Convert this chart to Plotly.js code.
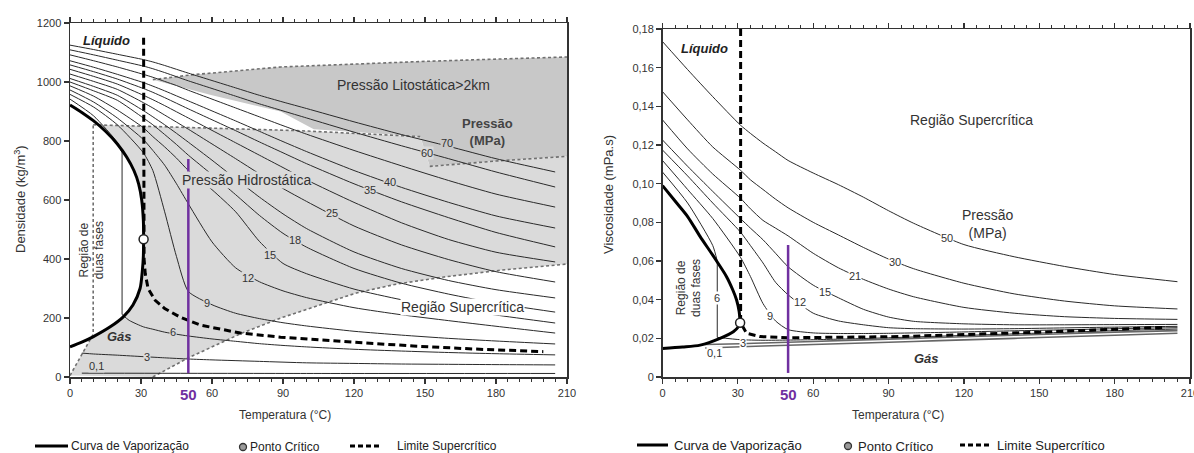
<!DOCTYPE html>
<html><head><meta charset="utf-8">
<script src="https://cdn.plot.ly/plotly-3.0.1.min.js"></script>
<style>html,body{margin:0;padding:0;background:#fff}#chart{width:1194px;height:453px}</style>
</head><body><div id="chart"></div>
<script>
// ================= LEFT PANEL: density (kg/m3) vs temperature (°C) =================
const isoT = [0,10,20,31,35,40,45,50,60,70,80,90,100,120,140,160,180,205];
const rho70 = [1125,1110,1094,1076,1068,1056,1043,1030,1005,980,955,932,910,865,822,782,740,695];
const rho60 = [1109,1092,1074,1054,1045,1032,1018,1004,978,952,926,902,878,830,784,740,695,644];
const rho50 = [1092,1072,1051,1026,1016,1002,988,972,942,912,882,852,823,768,716,666,620,576];
const rho40 = [1072,1050,1026,998,986,970,953,936,902,868,833,798,764,700,643,592,546,505];
const rho35 = [1058,1035,1010,978,965,947,928,909,872,835,797,760,723,655,594,540,490,441];
const rho30 = [1043,1019,993,955,940,920,899,878,836,794,752,710,668,592,523,466,423,390];
const rho25 = [1027,1002,975,930,912,888,864,840,790,740,689,639,595,512,448,398,357,322];
const rho21 = [1012,985,955,903,882,855,826,796,735,672,610,553,503,424,368,327,296,268];
const rho18 = [1000,970,938,878,855,822,788,752,686,618,548,487,440,368,318,281,250,220];
const rho15 = [987,952,905,845,815,780,742,700,635,560,460,385,350,298,262,234,210,183];
const rho12 = [973,932,878,805,768,718,655,587,458,370,323,292,269,235,211,191,172,149];
const rho9  = [958,915,855,760,700,560,408,290,245,216,198,184,173,155,142,131,122,112];
const rho6LiqT = [0,10,20,22];
const rho6Liq  = [942,885,795,760];
const rho6GasT = [22,25,31,35,40,45,50,60,70,80,90,100,120,140,160,180,205];
const rho6Gas  = [212,192,170,162,152,145,139,129,121,113,107,102,94,88,83,79,75];
const rho3T = [5,10,20,31,40,50,60,80,100,120,140,160,180,205];
const rho3  = [81,78,74,69,65,61,58,53,48,46,44,43,42,41];
const rho01T = [5,100,205];
const rho01  = [13,12,12];

const vapLiqT = [0,5,10,15,20,24,27,29,30.3,31,31.1];
const vapLiqRho = [922,897,868,833,790,745,700,655,600,530,467];
const vapGasT = [0,5,9.7,17,22.4,26.6,29.6,30.6,31,31.1];
const vapGasRho = [102,118,136,170,203,244,300,363,410,467];
const scT = [31.1,31.1,31.3,31.8,33,36,40,46.5,55,72,89,120,145,170,200];
const scRho = [1150,467,400,350,300,260,232,203,176,149,135,118,105,95,86];
const critT = 31.1, critRho = 467;

const lithoT   = [35,51,89,150,210,210,180,152,148,103,89,60,35];
const lithoRho = [1008,1024,1051,1070,1085,748,732,714,815,840,900,955,1008];
const litTopT = [35,51,89,150,210];
const litTopRho = [1008,1024,1051,1070,1085];
const litBotT = [152,180,210];
const litBotRho = [714,732,748];
const hydroT   = [0,9.8,9.8,97,148,152,180,210,210,182,158,138,121,89,73,50,35];
const hydroRho = [5,145,855,835,815,714,732,748,383,362,339,315,285,200,150,65,0];
const hydLeftT = [0,9.8,9.8];
const hydLeftRho = [5,145,855];
const hydTopT = [9.8,97,148];
const hydTopRho = [855,835,815];
const hydBotT = [35,50,73,89,121,138,158,182,210];
const hydBotRho = [0,65,150,200,285,315,339,362,383];

const leftLabels = ['0,1','3','6','9','12','15','18','25','35','40','60','70'];
const leftLabelT = [11.4,32.5,43.5,57.9,75.2,84.5,95,110.7,126.7,135.2,150.8,159.3];
const leftLabelRho = [37,68,153,251,336,414,464,556,634,661,759,793];

// ================= RIGHT PANEL: viscosity (mPa.s) vs temperature (°C) =================
const visT = [0,10,20,31,35,40,45,50,60,70,80,90,100,120,140,160,180,205];
const vis50 = [0.1735,0.159,0.145,0.1303,0.126,0.121,0.1165,0.112,0.1055,0.0995,0.093,0.086,0.0795,0.0685,0.0622,0.0572,0.0530,0.0493];
const vis30 = [0.1476,0.133,0.119,0.107,0.102,0.097,0.092,0.0875,0.080,0.0735,0.067,0.061,0.056,0.0485,0.043,0.0393,0.0368,0.0352];
const vis21 = [0.133,0.118,0.105,0.0925,0.087,0.081,0.077,0.073,0.064,0.0565,0.0505,0.0455,0.0415,0.036,0.033,0.0312,0.0303,0.0298];
const vis15 = [0.1226,0.109,0.096,0.082,0.077,0.071,0.064,0.057,0.0475,0.041,0.035,0.031,0.0288,0.0275,0.027,0.027,0.0271,0.0272];
const vis12 = [0.1174,0.104,0.090,0.075,0.068,0.059,0.049,0.0425,0.033,0.029,0.027,0.0255,0.025,0.0248,0.025,0.0254,0.0258,0.0262];
const vis9  = [0.112,0.097,0.082,0.062,0.052,0.038,0.029,0.0245,0.0228,0.0225,0.0225,0.0226,0.0228,0.0233,0.0239,0.0244,0.025,0.0255];
const vis6LiqT = [0,10,20,21.8];
const vis6Liq  = [0.106,0.090,0.068,0.060];
const vis6GasT = [21.8,31,40,50,60,80,100,120,140,160,180,205];
const vis6Gas  = [0.0205,0.0193,0.019,0.0191,0.0193,0.0199,0.0207,0.0215,0.0223,0.0231,0.024,0.0248];
const vis3T = [17,31,40,50,60,80,100,120,140,160,180,205];
const vis3  = [0.0168,0.0172,0.0176,0.018,0.0184,0.0192,0.02,0.0208,0.0216,0.0224,0.0232,0.024];
const vis01T = [17,40,60,80,100,120,140,160,180,205];
const vis01  = [0.015,0.016,0.0168,0.0176,0.0184,0.0192,0.02,0.0208,0.0216,0.0226];

const vVapLiqT = [0,5,10,15,20,25.5,28,29.5,30.5,30.9];
const vVapLiq  = [0.099,0.091,0.083,0.0726,0.063,0.0519,0.045,0.0398,0.034,0.0281];
const vVapGasT = [0,8,15,22.9,28.2,30.2,30.9];
const vVapGas  = [0.0148,0.0155,0.0165,0.020,0.0234,0.026,0.0281];
const vScT = [31.1,31.1,33.5,38.8,50,95,150,200];
const vSc  = [0.18,0.028,0.0226,0.0209,0.0203,0.0209,0.0232,0.0257];
const vCritT = 30.9, vCrit = 0.0281;

const rightLabels = ['0,1','3','6','9','12','15','21','30','50'];
const rightLabelT = [20.9,31.9,21.8,42.8,54.7,64.7,76.6,92.6,113.1];
const rightLabelV = [0.0126,0.0177,0.0407,0.0316,0.039,0.0441,0.0523,0.0597,0.0718];

const yTicksRight = [0,0.02,0.04,0.06,0.08,0.10,0.12,0.14,0.16,0.18];
const yTickTextRight = ['0','0,02','0,04','0,06','0,08','0,10','0,12','0,14','0,16','0,18'];
const xTicks = [0,30,60,90,120,150,180,210];
const yTicksLeft = [0,200,400,600,800,1000,1200];

// ================= BUILD =================
const FONT = 'Liberation Sans, Arial, sans-serif';
const PURPLE = '#7030A0';
const traces = [];
function add(x, y, ax, line, extra) {
  traces.push(Object.assign({type:'scatter', mode:'lines', x:x, y:y,
    xaxis: ax === 2 ? 'x2' : 'x', yaxis: ax === 2 ? 'y2' : 'y',
    line: line, hoverinfo:'skip', showlegend:false}, extra || {}));
}
const iso = {color:'#2a2a2a', width:1, shape:'spline', smoothing:0.6};
const bdash = {color:'#707070', width:1.6, dash:'3px,2.5px'};
const vapLine = {color:'#000', width:3, shape:'spline', smoothing:0.8};

const domeT = vapLiqT.concat(vapGasT.slice().reverse());
const domeRho = vapLiqRho.concat(vapGasRho.slice().reverse());

// left fills
add(lithoT, lithoRho, 1, {width:0}, {fill:'toself', fillcolor:'#c8c8c8'});
add(hydroT, hydroRho, 1, {width:0}, {fill:'toself', fillcolor:'#dadada'});
add(domeT, domeRho, 1, {width:0, shape:'spline', smoothing:0.8}, {fill:'toself', fillcolor:'#ffffff'});
// boundaries
add(litTopT, litTopRho, 1, bdash);
add(litBotT, litBotRho, 1, bdash);
add(hydLeftT, hydLeftRho, 1, bdash);
add(hydTopT, hydTopRho, 1, bdash);
add(hydBotT, hydBotRho, 1, bdash);
// isobars
[rho70,rho60,rho50,rho40,rho35,rho30,rho25,rho21,rho18,rho15,rho12,rho9].forEach(r => add(isoT, r, 1, iso));
add(rho6LiqT, rho6Liq, 1, iso);
add([22,22], [760,212], 1, iso);
add(rho6GasT, rho6Gas, 1, iso);
add(rho3T, rho3, 1, iso);
add(rho01T, rho01, 1, iso);
// vaporization + supercritical
add(domeT, domeRho, 1, vapLine);
add(scT, scRho, 1, {color:'#000', width:3, dash:'7px,4px'});
add([critT], [critRho], 1, {width:0}, {mode:'markers', marker:{size:9, color:'#fff', line:{color:'#222', width:1.5}}});
add([50,50], [13,739], 1, {color:PURPLE, width:2.5});

// right
[vis50,vis30,vis21,vis15,vis12,vis9].forEach(v => add(visT, v, 2, iso));
add(vis6LiqT, vis6Liq, 2, iso);
add([21.8,21.8], [0.060,0.0205], 2, iso);
add(vis6GasT, vis6Gas, 2, iso);
add(vis3T, vis3, 2, {color:'#666', width:1.6, shape:'spline'});
add(vis01T, vis01, 2, {color:'#666', width:1.6, shape:'spline'});
add(vVapLiqT.concat(vVapGasT.slice().reverse()), vVapLiq.concat(vVapGas.slice().reverse()), 2, vapLine);
add(vScT, vSc, 2, {color:'#000', width:3, dash:'7px,4px'});
add([vCritT], [vCrit], 2, {width:0}, {mode:'markers', marker:{size:9, color:'#fff', line:{color:'#222', width:1.5}}});
add([50,50], [0.0021,0.0683], 2, {color:PURPLE, width:2.5});

// ================= ANNOTATIONS =================
const W = 1194, H = 453;
const px = v => v / W, py = v => 1 - v / H;
const ann = [];
function txt(text, x, y, xref, yref, o) {
  ann.push(Object.assign({text:text, x:x, y:y, xref:xref, yref:yref, showarrow:false,
    xanchor:'center', yanchor:'middle',
    font:{family:FONT, size:12, color:'#333'}, borderpad:0}, o || {}));
}
leftLabels.forEach((t,i) => txt(t, leftLabelT[i], leftLabelRho[i], 'x', 'y',
  {font:{family:FONT, size:11, color:'#333'}, bgcolor: i === 11 ? '#c8c8c8' : '#dadada'}));
rightLabels.forEach((t,i) => txt(t, rightLabelT[i], rightLabelV[i], 'x2', 'y2',
  {font:{family:FONT, size:11, color:'#333'}, bgcolor:'#fff'}));

txt('<b><i>Líquido</i></b>', 15.6, 1142, 'x', 'y', {font:{family:FONT, size:13, color:'#222'}});
txt('<b><i>Gás</i></b>', 21.1, 136, 'x', 'y', {font:{family:FONT, size:13, color:'#333'}});
txt('Pressão Litostática>2km', 145, 990, 'x', 'y', {font:{family:FONT, size:14, color:'#333'}});
txt('Pressão Hidrostática', 74.4, 668, 'x', 'y', {font:{family:FONT, size:14, color:'#333'}, bgcolor:'#dadada'});
txt('<b>Pressão<br>(MPa)</b>', 176.6, 830, 'x', 'y', {font:{family:FONT, size:13, color:'#444'}});
txt('Região Supercrítica', 166, 237, 'x', 'y', {font:{family:FONT, size:14, color:'#333'}, bgcolor:'#fff'});
txt('Região de<br>duas fases', 9.3, 430, 'x', 'y', {font:{family:FONT, size:12, color:'#333'}, textangle:-90});

txt('<b><i>Líquido</i></b>', 16.9, 0.170, 'x2', 'y2', {font:{family:FONT, size:13, color:'#222'}});
txt('<b><i>Gás</i></b>', 105.2, 0.0097, 'x2', 'y2', {font:{family:FONT, size:13, color:'#333'}});
txt('Região Supercrítica', 123.1, 0.133, 'x2', 'y2', {font:{family:FONT, size:14, color:'#333'}});
txt('Pressão<br>(MPa)', 129.6, 0.079, 'x2', 'y2', {font:{family:FONT, size:14, color:'#333'}, bgcolor:'#fff'});
txt('Região de<br>duas fases', 10.5, 0.046, 'x2', 'y2', {font:{family:FONT, size:12, color:'#333'}, textangle:-90});

// purple "50"
txt('<b>50</b>', 50, py(394), 'x', 'paper', {font:{family:FONT, size:15, color:PURPLE}});
txt('<b>50</b>', 50, py(394), 'x2', 'paper', {font:{family:FONT, size:15, color:PURPLE}});

// axis titles
txt('Temperatura (°C)', px(285), py(415), 'paper', 'paper', {font:{family:FONT, size:12, color:'#333'}});
txt('Temperatura (°C)', px(898), py(415), 'paper', 'paper', {font:{family:FONT, size:12, color:'#333'}});
txt('Densidade (kg/m<sup>3</sup>)', px(20), py(199), 'paper', 'paper', {font:{family:FONT, size:13, color:'#333'}, textangle:-90});
txt('Viscosidade (mPa.s)', px(608), py(195), 'paper', 'paper', {font:{family:FONT, size:13, color:'#333'}, textangle:-90});

// legends
const shapes = [];
function legend(y, fs, pos) {
  shapes.push({type:'line', xref:'paper', yref:'paper', x0:px(pos[0]), x1:px(pos[1]), y0:py(y), y1:py(y), line:{color:'#000', width:3}});
  txt('Curva de Vaporização', px(pos[2]), py(y), 'paper', 'paper', {xanchor:'left', font:{family:FONT, size:fs, color:'#222'}});
  shapes.push({type:'circle', xref:'paper', yref:'paper', x0:px(pos[3]-3.5), x1:px(pos[3]+3.5), y0:py(y+4.5), y1:py(y-2.5), fillcolor:'#9a9a9a', line:{color:'#333', width:1.3}});
  txt('Ponto Crítico', px(pos[4]), py(y+1), 'paper', 'paper', {xanchor:'left', font:{family:FONT, size:fs, color:'#222'}});
  shapes.push({type:'line', xref:'paper', yref:'paper', x0:px(pos[5]), x1:px(pos[6]), y0:py(y), y1:py(y), line:{color:'#000', width:3, dash:'5px,3px'}});
  txt('Limite Supercrítico', px(pos[7]), py(y), 'paper', 'paper', {xanchor:'left', font:{family:FONT, size:fs, color:'#222'}});
}
legend(446, 12, [35,68,70,243,249,350,380,396]);
legend(445, 13, [637,668,673,848,857,960,992,996]);

const axBase = {showgrid:false, zeroline:false, showline:true, linecolor:'#333', linewidth:1.5,
  ticks:'outside', ticklen:5, tickwidth:1.2, tickcolor:'#333', automargin:false, fixedrange:true,
  tickfont:{family:FONT, size:11, color:'#333'}, ticklabeloverflow:'allow'};
const xBase = Object.assign({}, axBase, {range:[0,210], tickmode:'array', tickvals:xTicks, mirror:'ticks',
  minor:{dtick:5, tick0:0, ticklen:3, tickwidth:1, tickcolor:'#333', ticks:'outside'}});

const layout = {
  width:W, height:H, margin:{l:0, r:0, t:0, b:0, pad:0},
  paper_bgcolor:'#fff', plot_bgcolor:'#fff', showlegend:false,
  font:{family:FONT},
  xaxis: Object.assign({}, xBase, {domain:[70/W, 567/W], anchor:'y'}),
  yaxis: Object.assign({}, axBase, {domain:[1-377/H, 1-23/H], range:[0,1200], tickmode:'array', tickvals:yTicksLeft, mirror:true, anchor:'x'}),
  xaxis2: Object.assign({}, xBase, {domain:[662.5/W, 1190/W], anchor:'y2'}),
  yaxis2: Object.assign({}, axBase, {domain:[1-377/H, 1-29/H], range:[0,0.18], tickmode:'array', tickvals:yTicksRight, ticktext:yTickTextRight, mirror:true, anchor:'x2'}),
  annotations: ann, shapes: shapes
};
Plotly.newPlot('chart', traces, layout, {displayModeBar:false, staticPlot:true});
</script></body></html>
